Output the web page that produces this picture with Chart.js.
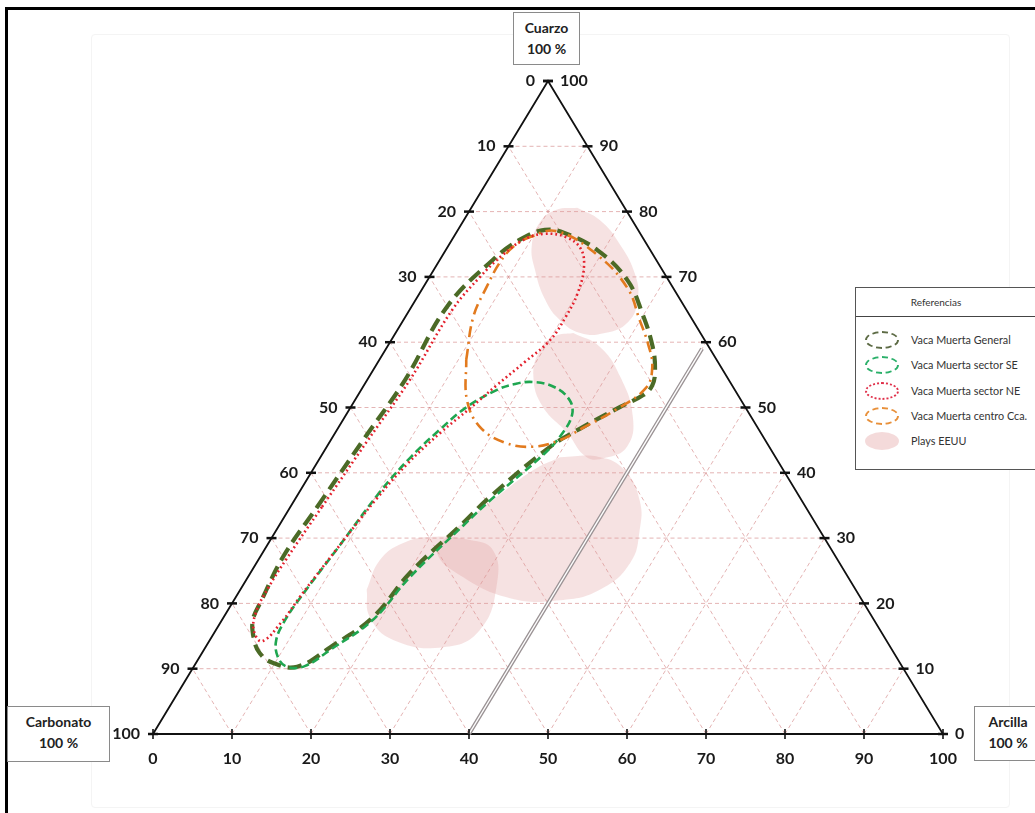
<!DOCTYPE html>
<html>
<head>
<meta charset="utf-8">
<script src="https://cdn.jsdelivr.net/npm/chart.js@4.4.1/dist/chart.umd.min.js"></script>
<style>
  html, body { margin: 0; padding: 0; background: #fff; }
  #wrap { position: relative; width: 1035px; height: 813px; overflow: hidden; background: #fff; font-family: Lato, "Open Sans", sans-serif; }
  #c { position: absolute; left: 0; top: 0; }
  .frameTop { position: absolute; left: 5px; top: 7px; width: 1030px; height: 3px; background: #000; }
  .frameLeft { position: absolute; left: 5px; top: 7px; width: 3px; height: 806px; background: #000; }
  .faint { position: absolute; left: 91px; top: 34px; width: 917px; height: 772px; border: 1px solid #f4f4f4; border-radius: 4px; }
  .vbox { position: absolute; box-sizing: border-box; border: 1px solid #8a8a8a; background: #fff; text-align: center; font-weight: 700; font-size: 14px; color: #222; line-height: 21px; padding-top: 4px; }
  #legend { position: absolute; left: 855px; top: 287px; width: 200px; height: 183px; box-sizing: border-box; border: 1px solid #555; background: #fff; }
  #legend .head { position: absolute; left: 0; top: 0; width: 200px; height: 29px; border-bottom: 1px solid #444; box-sizing: border-box; }
  #legend .head span { position: absolute; left: 0; width: 160px; text-align: center; top: 8px; font-size: 10px; color: #333; }
  .item { position: absolute; left: 0; height: 20px; width: 200px; }
  .item .ic { position: absolute; left: 9px; top: 0; width: 34px; height: 18px; box-sizing: border-box; border-radius: 50%; }
  .item .tx { position: absolute; left: 55px; top: 2px; font-size: 10.8px; color: #333; white-space: nowrap; }
</style>
</head>
<body>
<div id="wrap">
  <div class="faint"></div>
  <canvas id="c" width="1035" height="813"></canvas>
  <div class="frameTop"></div>
  <div class="frameLeft"></div>
  <div class="vbox" style="left:513px;top:12px;width:67px;height:53px;">Cuarzo<br>100 %</div>
  <div class="vbox" style="left:7px;top:706px;width:103px;height:56px;">Carbonato<br>100 %</div>
  <div class="vbox" style="left:974px;top:706px;width:68px;height:55px;">Arcilla<br>100 %</div>
  <div id="legend">
    <div class="head"><span>Referencias</span></div>
    <div class="item" style="top:43px"><div class="ic" style="border:2px dashed #5d6b45"></div><div class="tx">Vaca Muerta General</div></div>
    <div class="item" style="top:68px"><div class="ic" style="border:2px dashed #2bb06a"></div><div class="tx">Vaca Muerta sector SE</div></div>
    <div class="item" style="top:94px"><div class="ic" style="border:2px dotted #e0304a"></div><div class="tx">Vaca Muerta sector NE</div></div>
    <div class="item" style="top:119px"><div class="ic" style="border:2px dashed #e8903a"></div><div class="tx">Vaca Muerta centro Cca.</div></div>
    <div class="item" style="top:144px"><div class="ic" style="background:#f4dada"></div><div class="tx">Plays EEUU</div></div>
  </div>
</div>
<script>
// ---- Tick / grid values (percent) ----
const tickValues = [0, 10, 20, 30, 40, 50, 60, 70, 80, 90, 100];
const gridValues = [10, 20, 30, 40, 50, 60, 70, 80, 90];

// ---- Contours: quartz % and clay % (carbonate = 100 - quartz - clay) ----
const generalQuartz = [34.8, 45.0, 54.2, 65.4, 72.6, 75.7, 77.2, 76.7, 74.1, 69.5, 64.2, 59.3, 55.7, 53.4, 51.9, 50.1, 47.0, 44.0, 36.3, 32.3, 24.7, 17.9, 13.3, 10.3, 10.9, 12.4, 14.7, 17.5, 20.5, 27.1];
const generalClay   = [3.4, 4.1, 4.8, 4.5, 6.7, 8.6, 11.0, 13.8, 19.2, 25.3, 29.9, 33.6, 35.7, 36.5, 36.1, 34.1, 30.9, 28.3, 24.5, 23.1, 20.2, 18.9, 15.8, 13.1, 9.7, 7.3, 5.4, 3.9, 3.5, 2.9];

const seQuartz = [28.9, 37.1, 42.3, 46.6, 50.1, 52.7, 53.6, 53.9, 53.1, 51.1, 48.9, 46.1, 43.0, 35.8, 31.9, 24.0, 17.5, 12.9, 10.4, 10.3, 11.8, 14.4, 17.5, 20.8];
const seClay   = [9.2, 10.2, 11.4, 13.0, 14.7, 17.2, 19.0, 21.2, 24.3, 27.2, 28.6, 28.8, 28.1, 24.8, 23.3, 20.5, 19.1, 16.0, 14.0, 11.8, 9.9, 8.4, 8.0, 8.2];

const neQuartz = [34.8, 45.0, 54.2, 64.9, 70.0, 73.4, 75.8, 76.6, 76.1, 74.4, 71.5, 67.5, 63.9, 60.3, 57.0, 53.4, 49.9, 46.1, 41.3, 36.1, 28.3, 21.1, 17.2, 14.2, 15.9, 18.7, 22.4, 27.1];
const neClay   = [4.0, 4.7, 5.4, 5.4, 6.4, 7.6, 9.2, 11.3, 14.2, 16.9, 18.8, 20.0, 20.3, 20.1, 18.6, 16.8, 15.2, 13.3, 11.5, 10.3, 9.1, 8.1, 7.7, 6.7, 4.8, 3.7, 3.4, 3.5];

const centroQuartz = [57.3, 63.9, 68.5, 72.3, 74.6, 76.1, 77.0, 73.4, 68.3, 63.4, 59.6, 56.2, 53.0, 49.6, 46.9, 45.0, 44.0, 44.6, 47.0, 51.1];
const centroClay   = [11.0, 8.6, 8.0, 7.8, 8.3, 9.7, 12.6, 19.5, 25.9, 29.9, 32.9, 35.1, 35.9, 33.7, 31.0, 29.0, 26.1, 22.3, 17.9, 14.2];

// Plays EEUU areas
const play1Quartz = [80.6, 78.7, 74.9, 70.3, 66.5, 63.1, 61.4, 61.4, 63.4, 66.5, 71.1, 74.9, 78.4, 80.2];
const play1Clay   = [13.4, 17.2, 21.7, 25.9, 28.1, 28.6, 26.5, 23.4, 19.8, 16.4, 12.8, 10.5, 9.8, 10.8];
const play2Quartz = [61.4, 59.3, 54.7, 48.5, 44.0, 42.3, 42.4, 46.1, 50.1, 54.7, 58.8, 60.9];
const play2Clay   = [22.5, 26.9, 31.8, 36.5, 38.0, 36.1, 33.7, 29.4, 24.3, 20.8, 19.6, 20.4];
const play3Quartz = [42.4, 42.4, 40.4, 35.8, 31.2, 26.2, 22.1, 20.5, 20.8, 24.3, 27.7, 30.2, 35.8, 40.4];
const play3Clay   = [30.3, 35.4, 39.5, 43.7, 46.0, 47.3, 45.5, 41.3, 34.8, 26.7, 22.1, 22.1, 25.1, 27.9];
const play4Quartz = [22.1, 26.6, 29.2, 30.2, 29.7, 28.2, 23.1, 15.9, 13.3, 14.4, 17.9];
const play4Clay   = [16.0, 15.4, 17.0, 20.3, 25.3, 28.9, 32.0, 33.4, 30.1, 23.2, 18.5];

// Clay 40 % reference line (quartz from 0 to 59)
const clayLineQuartz = [0, 59];
const clayLineClay = [40, 40];

// ---- helpers ----
const toXY = (q, c) => ({ x: c + q / 2, y: q });
function path(qs, cs) { return qs.map((q, i) => toXY(q, cs[i])); }
function loop(qs, cs) { const p = path(qs, cs); p.push(p[0]); return p; }

const playFill = 'rgba(222,150,150,0.28)';
function playDs(qs, cs) {
  return { data: loop(qs, cs), borderWidth: 0, borderColor: 'rgba(0,0,0,0)', backgroundColor: playFill, fill: 'shape', tension: 0.45, order: 20 };
}

const gridPlugin = {
  id: 'ternaryGrid',
  beforeDatasetsDraw(chart) {
    const { ctx, scales: { x, y } } = chart;
    const P = (q, c) => [x.getPixelForValue(c + q / 2), y.getPixelForValue(q)];
    const seg = (a, b) => { ctx.beginPath(); ctx.moveTo(a[0], a[1]); ctx.lineTo(b[0], b[1]); ctx.stroke(); };
    ctx.save();
    ctx.strokeStyle = 'rgba(210,130,130,0.6)';
    ctx.lineWidth = 1;
    ctx.setLineDash([4, 3]);
    gridValues.forEach(k => {
      seg(P(k, 0), P(k, 100 - k));
      seg(P(0, k), P(100 - k, k));
      seg(P(0, 100 - k), P(100 - k, 0));
    });
    ctx.restore();
  },
  afterDatasetsDraw(chart) {
    const { ctx, scales: { x, y } } = chart;
    const P = (q, c) => [x.getPixelForValue(c + q / 2), y.getPixelForValue(q)];
    ctx.save();
    ctx.strokeStyle = '#111';
    ctx.fillStyle = '#1a1a1a';
    ctx.font = 'bold 16px Lato, "Open Sans", sans-serif';
    ctx.textBaseline = 'middle';
    tickValues.forEach(v => {
      // left edge: carbonate value v (clay = 0, quartz = 100 - v)
      let p = P(100 - v, 0);
      ctx.lineWidth = 2.5;
      ctx.beginPath(); ctx.moveTo(p[0] - 5, p[1]); ctx.lineTo(p[0] + 5, p[1]); ctx.stroke();
      ctx.textAlign = 'right';
      ctx.fillText(String(v), p[0] - 13, p[1]);
      // right edge: quartz value v (carbonate = 0)
      p = P(v, 100 - v);
      ctx.beginPath(); ctx.moveTo(p[0] - 5, p[1]); ctx.lineTo(p[0] + 5, p[1]); ctx.stroke();
      ctx.textAlign = 'left';
      ctx.fillText(String(v), p[0] + 12, p[1]);
      // bottom edge: clay value v (quartz = 0)
      p = P(0, v);
      ctx.lineWidth = 1.6;
      ctx.beginPath(); ctx.moveTo(p[0], p[1] - 5); ctx.lineTo(p[0], p[1] + 5); ctx.stroke();
      ctx.textAlign = 'center';
      ctx.fillText(String(v), p[0], p[1] + 25);
    });
    ctx.restore();
  }
};

const triangle = [toXY(0, 0), toXY(0, 100), toXY(100, 0), toXY(0, 0)];

new Chart(document.getElementById('c'), {
  type: 'line',
  data: {
    datasets: [
      playDs(play1Quartz, play1Clay),
      playDs(play2Quartz, play2Clay),
      playDs(play3Quartz, play3Clay),
      playDs(play4Quartz, play4Clay),
      { data: triangle, borderColor: '#111', borderWidth: 1.8, tension: 0, fill: false, order: 15 },
      { data: path(clayLineQuartz, clayLineClay), borderColor: '#9a9294', borderWidth: 4, tension: 0, fill: false, order: 14 },
      { data: path(clayLineQuartz, clayLineClay), borderColor: '#ffffff', borderWidth: 1.4, tension: 0, fill: false, order: 13 },
      { label: 'Vaca Muerta General', data: loop(generalQuartz, generalClay), borderColor: '#4b6a26', borderWidth: 4.2, borderDash: [14, 7], tension: 0.4, fill: false, order: 12 },
      { label: 'Vaca Muerta sector SE', data: loop(seQuartz, seClay), borderColor: '#1fa650', borderWidth: 2.6, borderDash: [8, 4], tension: 0.4, fill: false, order: 11 },
      { label: 'Vaca Muerta centro Cca.', data: loop(centroQuartz, centroClay), borderColor: '#e27a1e', borderWidth: 2.6, borderDash: [11, 5, 2, 5], tension: 0.4, fill: false, order: 10 },
      { label: 'Vaca Muerta sector NE', data: loop(neQuartz, neClay), borderColor: '#e3202c', borderWidth: 2.6, borderDash: [1.8, 3], tension: 0.4, fill: false, order: 9 }
    ]
  },
  options: {
    responsive: false,
    animation: false,
    devicePixelRatio: 1,
    layout: { padding: { left: 153, right: 92, top: 81, bottom: 79 } },
    scales: {
      x: { type: 'linear', min: 0, max: 100, display: false },
      y: { type: 'linear', min: 0, max: 100, display: false }
    },
    elements: { point: { radius: 0, hoverRadius: 0 }, line: { capBezierPoints: true } },
    datasets: { line: { clip: false } },
    plugins: { legend: { display: false }, tooltip: { enabled: false } }
  },
  plugins: [gridPlugin]
});
</script>
</body>
</html>
